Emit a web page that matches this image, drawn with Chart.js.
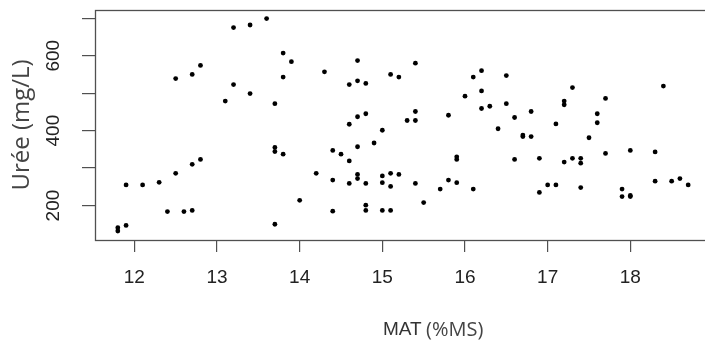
<!DOCTYPE html>
<html>
<head>
<meta charset="utf-8">
<script src="https://cdn.jsdelivr.net/npm/chart.js@4/dist/chart.umd.min.js"></script>
<style>
  html, body { margin: 0; padding: 0; background: #fff; overflow: hidden; }
  #wrap { width: 705px; height: 343px; overflow: hidden; }
</style>
</head>
<body>
<div id="wrap"><canvas id="chart" width="716" height="343"></canvas></div>
<script>
// MAT (%MS) vs Urée (mg/L)
const matValues = [
  11.8, 11.8, 11.9, 11.9, 12.1, 12.3, 12.4, 12.5, 12.5, 12.6,
  12.7, 12.7, 12.7, 12.8, 12.8, 13.1, 13.2, 13.2, 13.4, 13.4,
  13.6, 13.7, 13.7, 13.7, 13.7, 13.8, 13.8, 13.9, 13.8, 14.0,
  14.2, 14.3, 14.4, 14.4, 14.4, 14.5, 14.6, 14.6, 14.6, 14.6,
  14.7, 14.7, 14.7, 14.7, 14.7, 14.7, 14.8, 14.8, 14.8, 14.8,
  14.8, 14.9, 15.0, 15.0, 15.0, 15.0, 15.1, 15.1, 15.1, 15.1,
  15.2, 15.2, 15.3, 15.4, 15.4, 15.4, 15.4, 15.5, 15.7, 15.8,
  15.8, 15.9, 15.9, 15.9, 16.0, 16.1, 16.1, 16.2, 16.2, 16.2,
  16.3, 16.4, 16.5, 16.5, 16.6, 16.6, 16.7, 16.7, 16.8, 16.8,
  16.9, 16.9, 17.0, 17.1, 17.1, 17.2, 17.2, 17.2, 17.3, 17.3,
  17.4, 17.4, 17.4, 17.5, 17.6, 17.6, 17.7, 17.7, 17.9, 17.9,
  18.0, 18.0, 18.0, 18.3, 18.3, 18.4, 18.5, 18.6, 18.7
];
const ureeValues = [
  141, 132, 147, 255, 255, 262, 184, 286, 539, 184,
  187, 310, 550, 323, 574, 479, 523, 675, 499, 682,
  699, 472, 355, 344, 150, 607, 543, 584, 337, 214,
  286, 557, 347, 268, 185, 337, 523, 417, 319, 259,
  587, 533, 437, 357, 283, 272, 526, 445, 259, 201,
  187, 367, 401, 279, 261, 187, 550, 286, 251, 187,
  543, 283, 427, 580, 451, 427, 259, 208, 244, 441,
  268, 330, 323, 261, 492, 543, 244, 560, 506, 459,
  465, 405, 547, 472, 435, 323, 388, 384, 451, 384,
  326, 235, 255, 418, 255, 479, 469, 316, 515, 326,
  326, 313, 248, 381, 445, 421, 486, 339, 244, 224,
  347, 224, 227, 343, 265, 519, 265, 272, 255
];
const xTicks = [12, 13, 14, 15, 16, 17, 18];
const yTicks = [200, 300, 400, 500, 600, 700];
const yLabelled = [200, 400, 600];

const points = matValues.map((x, i) => ({ x: x, y: ureeValues[i] }));

// frame round the plot area and the two-part x title
const framePlugin = {
    id: 'frame',
    afterDraw(chart) {
        const { ctx, chartArea: a } = chart;
        ctx.save();
        ctx.strokeStyle = '#505050';
        ctx.lineWidth = 1.3;
        ctx.strokeRect(a.left + 0.5, a.top + 0.5, a.right - a.left, a.bottom - a.top);

        ctx.textBaseline = 'alphabetic';
        ctx.textAlign = 'left';
        ctx.fillStyle = '#333';
        ctx.font = '19px "Liberation Sans", Arial, sans-serif';
        ctx.fillText('MAT', 383, 335);
        ctx.fillStyle = '#444';
        ctx.font = '20px "Open Sans", sans-serif';
        ctx.fillText('(%MS)', 426, 336);
        ctx.restore();
    }
};

const ctx = document.getElementById('chart').getContext('2d');
new Chart(ctx, {
    type: 'scatter',
    data: {
        datasets: [{
            data: points,
            backgroundColor: '#000',
            borderWidth: 0,
            pointRadius: 2.4,
            pointHoverRadius: 2.4
        }]
    },
    options: {
        responsive: false,
        devicePixelRatio: 1,
        animation: false,
        layout: { padding: { top: 10, right: 5, left: 0, bottom: 0 } },
        plugins: {
            legend: { display: false },
            tooltip: { enabled: false }
        },
        scales: {
            x: {
                type: 'linear',
                min: 11.524,
                max: 18.976,
                afterBuildTicks: s => { s.ticks = xTicks.map(v => ({ value: v })); },
                afterFit: s => { s.height = 103; s.paddingLeft = 0; s.paddingRight = 0; },
                border: { display: false },
                grid: {
                    drawOnChartArea: false,
                    drawTicks: true,
                    tickLength: 12,
                    color: '#505050',
                    lineWidth: 1.2
                },
                ticks: {
                    color: '#222',
                    padding: 14,
                    font: { family: '"Liberation Sans", Arial, sans-serif', size: 19 },
                    maxRotation: 0,
                    autoSkip: false
                }
            },
            y: {
                type: 'linear',
                min: 108,
                max: 722,
                afterBuildTicks: s => { s.ticks = yTicks.map(v => ({ value: v })); },
                afterFit: s => { s.width = 95; s.paddingTop = 0; s.paddingBottom = 0; },
                border: { display: false },
                grid: {
                    drawOnChartArea: false,
                    drawTicks: true,
                    tickLength: 13,
                    color: '#505050',
                    lineWidth: 1.2
                },
                ticks: {
                    color: '#222',
                    padding: 12,
                    crossAlign: 'center',
                    minRotation: 90,
                    maxRotation: 90,
                    autoSkip: false,
                    font: { family: '"Liberation Sans", Arial, sans-serif', size: 19 },
                    callback: v => yLabelled.includes(v) ? String(v) : ''
                },
                title: {
                    display: true,
                    text: 'Urée (mg/L)',
                    color: '#444',
                    font: { family: '"Open Sans", sans-serif', size: 24 },
                    padding: { top: 8, bottom: 0 }
                }
            }
        }
    },
    plugins: [framePlugin]
});
</script>
</body>
</html>
